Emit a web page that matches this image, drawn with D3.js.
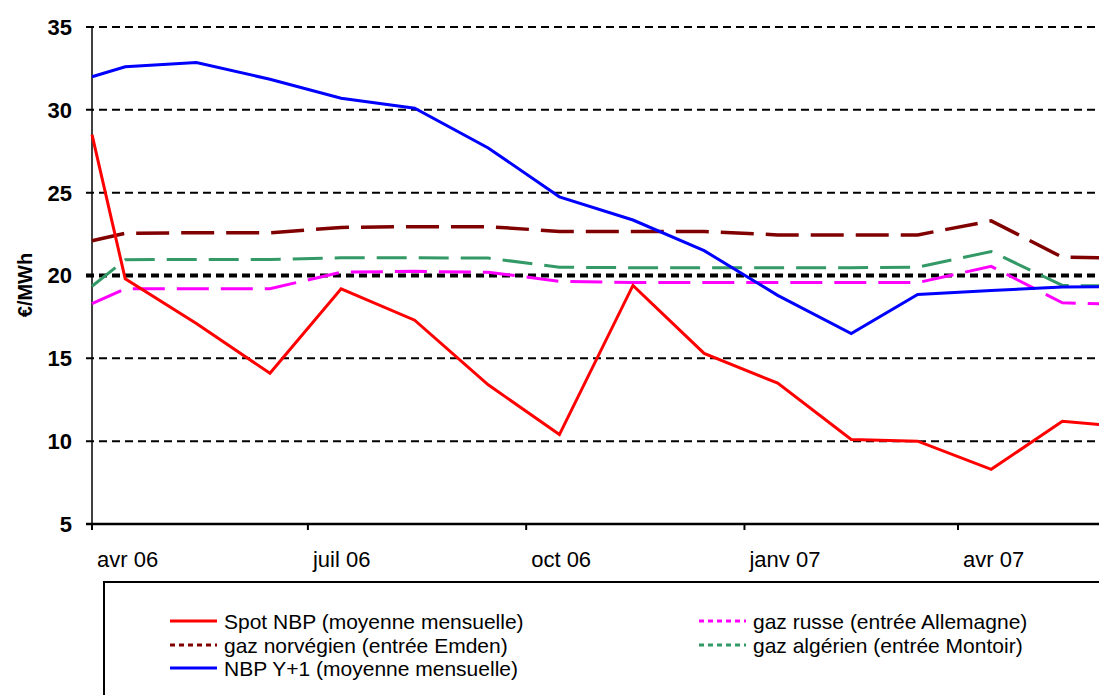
<!DOCTYPE html>
<html lang="fr">
<head>
    <meta charset="utf-8">
    <title>Prix du gaz - NBP et contrats long terme</title>
    <script src="https://d3js.org/d3.v7.min.js"></script>
    <style>
        body { margin: 0; background: #fff; }
        text { font-family: "Liberation Sans", Arial, sans-serif; }
    </style>
</head>
<body>
    <svg width="1099" height="695"></svg>

    <script>
        // Dates of the monthly points (first one is the start of april)
        var dates = ["2006-04-01", "2006-04-15", "2006-05-15", "2006-06-15", "2006-07-15", "2006-08-15",
                     "2006-09-15", "2006-10-15", "2006-11-15", "2006-12-15", "2007-01-15", "2007-02-15",
                     "2007-03-15", "2007-04-15", "2007-05-15", "2007-06-15"];

        // Series values (€/MWh)
        var spotNBP    = [28.5, 19.8, 17.1, 14.1, 19.2, 17.3, 13.4, 10.4, 19.4, 15.3, 13.5, 10.1, 10.0, 8.3, 11.2, 10.8];
        var gazNorvege = [22.1, 22.55, 22.58, 22.58, 22.9, 22.95, 22.95, 22.66, 22.66, 22.66, 22.45, 22.45, 22.45, 23.3, 21.1, 21.05];
        var gazRusse   = [18.3, 19.2, 19.2, 19.2, 20.2, 20.25, 20.2, 19.65, 19.57, 19.57, 19.57, 19.57, 19.57, 20.55, 18.35, 18.25];
        var gazAlgerie = [19.35, 20.95, 20.97, 20.97, 21.07, 21.07, 21.05, 20.5, 20.47, 20.47, 20.47, 20.47, 20.5, 21.45, 19.4, 19.35];
        var nbpY1      = [32.0, 32.6, 32.85, 31.85, 30.7, 30.1, 27.7, 24.75, 23.35, 21.5, 18.8, 16.5, 18.85, 19.1, 19.3, 19.35];

        // Axis ticks
        var yTicks = [5, 10, 15, 20, 25, 30, 35];
        var xTickDates = ["2006-04-01", "2006-07-01", "2006-10-01", "2007-01-01", "2007-04-01"];
        var xTickLabels = ["avr 06", "juil 06", "oct 06", "janv 07", "avr 07"];
        var refLevel = 20;

        var svg = d3.select("svg"),
            width = +svg.attr("width"),
            height = +svg.attr("height");

        var parse = d3.timeParse("%Y-%m-%d");

        var x = d3.scaleTime()
            .domain([parse("2006-04-01"), parse("2007-04-01")])
            .range([92, 958]);

        var y = d3.scaleLinear()
            .domain([5, 35])
            .range([524, 27]);

        // horizontal dashed gridlines
        svg.append("g")
            .selectAll("line")
            .data(yTicks.filter(function(d){ return d > 5; }))
            .enter()
            .append("line")
            .attr("x1", 86)
            .attr("x2", width)
            .attr("y1", function(d){ return y(d); })
            .attr("y2", function(d){ return y(d); })
            .attr("stroke", "#000")
            .attr("stroke-width", 2)
            .style("stroke-dasharray", "8,5");

        // thick dotted reference line at 20
        svg.append("line")
            .attr("x1", 86)
            .attr("x2", width)
            .attr("y1", y(refLevel))
            .attr("y2", y(refLevel))
            .attr("stroke", "#000")
            .attr("stroke-width", 4)
            .style("stroke-dasharray", "8,5");

        // axes
        svg.append("line")
            .attr("x1", x(parse("2006-04-01")))
            .attr("x2", x(parse("2006-04-01")))
            .attr("y1", y(35))
            .attr("y2", y(5) + 6)
            .attr("stroke", "#000")
            .attr("stroke-width", 1.5);

        svg.append("line")
            .attr("x1", 86)
            .attr("x2", width)
            .attr("y1", y(5))
            .attr("y2", y(5))
            .attr("stroke", "#000")
            .attr("stroke-width", 2.5);

        // x ticks + labels
        svg.append("g")
            .selectAll("line")
            .data(xTickDates)
            .enter()
            .append("line")
            .attr("x1", function(d){ return x(parse(d)); })
            .attr("x2", function(d){ return x(parse(d)); })
            .attr("y1", y(5))
            .attr("y2", y(5) + 6)
            .attr("stroke", "#000")
            .attr("stroke-width", 2);

        svg.append("g")
            .selectAll("text")
            .data(xTickDates)
            .enter()
            .append("text")
            .attr("x", function(d){ return x(parse(d)) + 5; })
            .attr("y", 567)
            .text(function(d, i){ return xTickLabels[i]; })
            .style("font-size", "22px");

        // y labels
        svg.append("g")
            .selectAll("text")
            .data(yTicks)
            .enter()
            .append("text")
            .attr("x", 72)
            .attr("y", function(d){ return y(d); })
            .attr("dy", "0.36em")
            .attr("text-anchor", "end")
            .style("font-size", "22px")
            .style("font-weight", "bold")
            .text(function(d){ return d; });

        // y axis title
        svg.append("text")
            .attr("transform", "translate(32,285) rotate(-90)")
            .attr("text-anchor", "middle")
            .style("font-size", "20px")
            .style("font-weight", "bold")
            .text("€/MWh");

        // series
        var series = [
            { name: "gaz norvégien (entrée Emden)", values: gazNorvege, color: "#800000", width: 3.5, dash: "33,12" },
            { name: "gaz russe (entrée Allemagne)", values: gazRusse, color: "#ff00ff", width: 3, dash: "32,12" },
            { name: "gaz algérien (entrée Montoir)", values: gazAlgerie, color: "#339966", width: 3, dash: "30,12" },
            { name: "Spot NBP (moyenne mensuelle)", values: spotNBP, color: "#ff0000", width: 3, dash: null },
            { name: "NBP Y+1 (moyenne mensuelle)", values: nbpY1, color: "#0000ff", width: 3, dash: null }
        ];

        var line = d3.line()
            .x(function(d, i){ return x(parse(dates[i])); })
            .y(function(d){ return y(d); });

        svg.append("g")
            .selectAll("path")
            .data(series)
            .enter()
            .append("path")
            .attr("d", function(d){ return line(d.values); })
            .attr("fill", "none")
            .attr("stroke", function(d){ return d.color; })
            .attr("stroke-width", function(d){ return d.width; })
            .style("stroke-dasharray", function(d){ return d.dash; });

        // ---------- LEGEND ----------
        svg.append("rect")
            .attr("x", 104)
            .attr("y", 582)
            .attr("width", 1100)
            .attr("height", 200)
            .attr("fill", "#fff")
            .attr("stroke", "#000")
            .attr("stroke-width", 2);

        var legendItems = [
            { s: series[3], lx: 170, tx: 224, y: 621 },
            { s: series[0], lx: 170, tx: 224, y: 645 },
            { s: series[4], lx: 170, tx: 224, y: 668 },
            { s: series[1], lx: 699, tx: 753, y: 621 },
            { s: series[2], lx: 699, tx: 753, y: 645 }
        ];

        var leg = svg.append("g")
            .selectAll("g")
            .data(legendItems)
            .enter()
            .append("g");

        leg.append("line")
            .attr("x1", function(d){ return d.lx; })
            .attr("x2", function(d){ return d.lx + 47; })
            .attr("y1", function(d){ return d.y; })
            .attr("y2", function(d){ return d.y; })
            .attr("stroke", function(d){ return d.s.color; })
            .attr("stroke-width", 3)
            .style("stroke-dasharray", function(d){ return d.s.dash ? "5,4" : null; });

        leg.append("text")
            .attr("x", function(d){ return d.tx; })
            .attr("y", function(d){ return d.y; })
            .attr("dy", "0.36em")
            .style("font-size", "21px")
            .text(function(d){ return d.s.name; });
    </script>
</body>
</html>
